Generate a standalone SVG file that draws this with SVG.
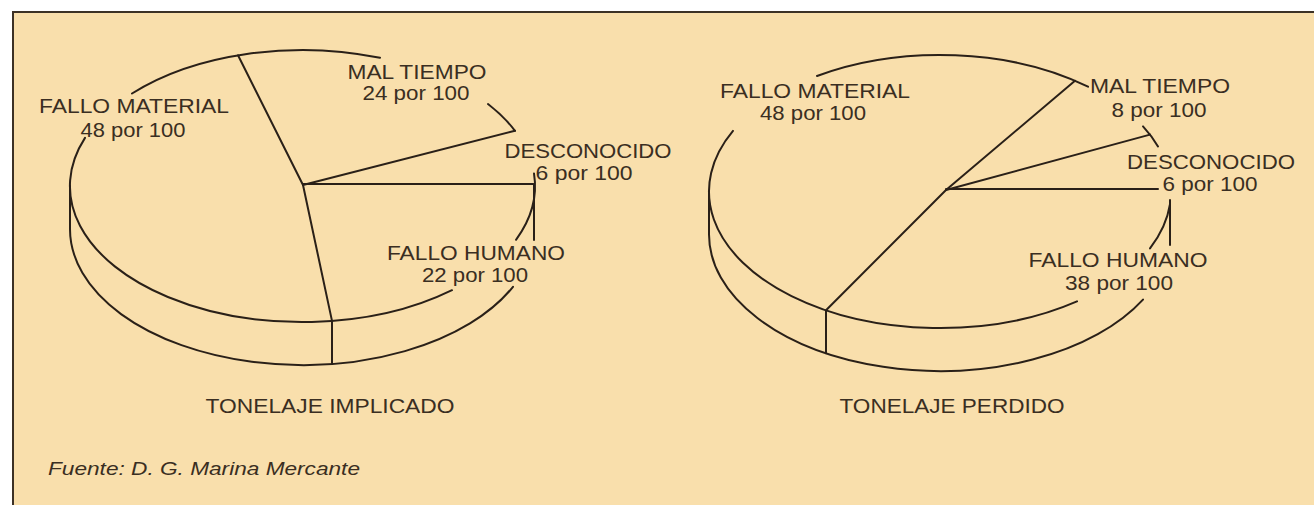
<svg xmlns="http://www.w3.org/2000/svg" width="1314" height="505" viewBox="0 0 1314 505">
<style>
.ln{fill:none;stroke:#2a2018;stroke-width:2;stroke-linecap:round;stroke-linejoin:round}
.lb{font-family:"Liberation Sans",Arial,sans-serif;font-size:20px;fill:#3a2e22;text-anchor:middle}
.src{font-family:"Liberation Sans",Arial,sans-serif;font-size:19px;font-style:italic;fill:#3a2e22}
</style>
<rect x="0" y="0" width="1314" height="505" fill="#ffffff"/>
<rect id="frame" x="13" y="12" width="1320" height="510" fill="#f9dfac" stroke="#3d3226" stroke-width="2"/>

<g id="pie-implicado">
<path class="ln" d="M85,137.9 A232.5,136 0 0 0 452,290.2"/>
<path class="ln" d="M516,239.8 A232.5,136 0 0 0 534,173.4"/>
<path class="ln" d="M515,130.8 A232.5,136 0 0 0 488,104"/>
<path class="ln" d="M380,57.8 A232.5,136 0 0 0 132,93.5"/>
<path class="ln" d="M70,186 L70,229 A232.5,136 0 0 0 513,286.8"/>
<path class="ln" d="M534,184 L534,240"/>
</g>

<g id="pie-perdido">
<path class="ln" d="M733,130.9 A231,136.5 0 0 0 1077,301.4"/>
<path class="ln" d="M1150,248.4 A231,136.5 0 0 0 1170,204.2"/>
<path class="ln" d="M1158,146.4 A231,136.5 0 0 0 1143,126.4"/>
<path class="ln" d="M1088,86.7 A231,136.5 0 0 0 817,76"/>
<path class="ln" d="M709,191.5 L709,234.5 A231,136.5 0 0 0 1143,299.6"/>
<path class="ln" d="M1170,200 L1170,245"/>
</g>

<g id="connectors">
<path class="ln" d="M303,185 L238,55.3"/>
<path class="ln" d="M303,185 L515,130.8"/>
<path class="ln" d="M303,184 L533,184"/>
<path class="ln" d="M303,185 L332,320.9 L332,364"/>
<path class="ln" d="M946,190 L1075,80.7"/>
<path class="ln" d="M946,190 L1150,134.6"/>
<path class="ln" d="M946,189 L1158,189"/>
<path class="ln" d="M946,190 L826,310.2 L826,353.2"/>
</g>

<g id="labels-implicado">
<text class="lb" x="134" y="113" textLength="190" lengthAdjust="spacingAndGlyphs">FALLO MATERIAL</text>
<text class="lb" x="133" y="137" textLength="105" lengthAdjust="spacingAndGlyphs">48 por 100</text>
<text class="lb" x="417" y="79" textLength="139" lengthAdjust="spacingAndGlyphs">MAL TIEMPO</text>
<text class="lb" x="416" y="100" textLength="107" lengthAdjust="spacingAndGlyphs">24 por 100</text>
<text class="lb" x="588" y="158" textLength="167" lengthAdjust="spacingAndGlyphs">DESCONOCIDO</text>
<text class="lb" x="584" y="180" textLength="97" lengthAdjust="spacingAndGlyphs">6 por 100</text>
<text class="lb" x="476" y="260" textLength="178" lengthAdjust="spacingAndGlyphs">FALLO HUMANO</text>
<text class="lb" x="475" y="282" textLength="106" lengthAdjust="spacingAndGlyphs">22 por 100</text>
<text class="lb" x="330" y="413" textLength="249" lengthAdjust="spacingAndGlyphs">TONELAJE IMPLICADO</text>
</g>

<g id="labels-perdido">
<text class="lb" x="815" y="98" textLength="190" lengthAdjust="spacingAndGlyphs">FALLO MATERIAL</text>
<text class="lb" x="813" y="120" textLength="106" lengthAdjust="spacingAndGlyphs">48 por 100</text>
<text class="lb" x="1160" y="93" textLength="140" lengthAdjust="spacingAndGlyphs">MAL TIEMPO</text>
<text class="lb" x="1159" y="117" textLength="95" lengthAdjust="spacingAndGlyphs">8 por 100</text>
<text class="lb" x="1211" y="169" textLength="168" lengthAdjust="spacingAndGlyphs">DESCONOCIDO</text>
<text class="lb" x="1210" y="191" textLength="95" lengthAdjust="spacingAndGlyphs">6 por 100</text>
<text class="lb" x="1118" y="267" textLength="179" lengthAdjust="spacingAndGlyphs">FALLO HUMANO</text>
<text class="lb" x="1119" y="290" textLength="108" lengthAdjust="spacingAndGlyphs">38 por 100</text>
<text class="lb" x="952" y="413" textLength="225" lengthAdjust="spacingAndGlyphs">TONELAJE PERDIDO</text>
</g>

<text id="source" class="src" x="48" y="475" textLength="312" lengthAdjust="spacingAndGlyphs">Fuente: D. G. Marina Mercante</text>
</svg>
